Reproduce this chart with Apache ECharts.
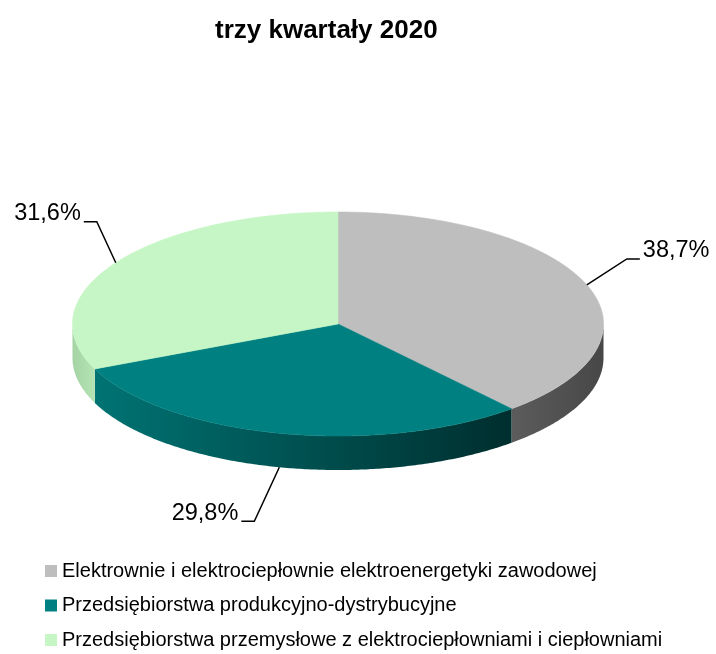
<!DOCTYPE html>
<html>
<head>
<meta charset="utf-8">
<script src="https://cdn.jsdelivr.net/npm/echarts@6/dist/echarts.min.js"></script>
<style>
  html, body { margin: 0; padding: 0; background: #fff; }
  #chart { width: 716px; height: 654px; }
</style>
</head>
<body>
<div id="chart"></div>
<script>
// data
const categories = [
    "Elektrownie i elektrociepłownie elektroenergetyki zawodowej",
    "Przedsiębiorstwa produkcyjno-dystrybucyjne",
    "Przedsiębiorstwa przemysłowe z elektrociepłowniami i ciepłowniami"
];
const shares = [38.7, 29.8, 31.6];

// look
const topColors = ["#bebebe", "#008080", "#c6f6c6"];
const wallColors = [
    ["#5c5c5c", "#474747"],
    ["#007373", "#002e2e"],
    ["#a4d4a4", "#b4e4b4"]
];
// leader line elbow offsets (px) from the slice edge
const labelOffsets = [[40, -26], [-25, 54], [-19, -41]];

const FONT = "'Liberation Sans', Arial, sans-serif";

// pie geometry, relative to the chart size
const CX = 338 / 716, CY = 324 / 654, RX = 265.5 / 716, RY = 112 / 654, DEPTH = 34;

const total = shares.reduce((a, b) => a + b, 0);

function fmt(v) {
    return v.toFixed(1).replace(".", ",") + "%";
}

function arc(pt, a0, a1, dy) {
    const pts = [];
    const n = Math.max(2, Math.ceil(Math.abs(a1 - a0) / 0.01));
    for (let i = 0; i <= n; i++) pts.push(pt(a0 + (a1 - a0) * i / n, dy));
    return pts;
}

function renderSlice(idx) {
    return function (params, api) {
        const W = api.getWidth(), H = api.getHeight();
        const cx = W * CX, cy = H * CY, rx = W * RX, ry = H * RY;
        const pt = (a, dy) => [cx + rx * Math.sin(a), cy - ry * Math.cos(a) + (dy || 0)];

        let start = 0;
        for (let i = 0; i < idx; i++) start += shares[i];
        const a0 = start / total * Math.PI * 2;
        const a1 = (start + api.value(0)) / total * Math.PI * 2;

        const children = [];

        // front wall
        const w0 = Math.max(a0, Math.PI / 2), w1 = Math.min(a1, Math.PI * 1.5);
        if (w1 > w0) {
            const pts = arc(pt, w0, w1, 0).concat(arc(pt, w1, w0, DEPTH));
            children.push({
                type: "polygon",
                shape: { points: pts },
                style: {
                    fill: {
                        type: "linear", x: 0, y: 0, x2: 1, y2: 0,
                        colorStops: [
                            { offset: 0, color: wallColors[idx][0] },
                            { offset: 1, color: wallColors[idx][1] }
                        ]
                    }
                }
            });
        }

        // top face
        children.push({
            type: "polygon",
            shape: { points: [[cx, cy]].concat(arc(pt, a0, a1, 0)) },
            style: { fill: topColors[idx], stroke: topColors[idx], lineWidth: 0.6 }
        });

        // label with leader line
        const mid = (a0 + a1) / 2;
        const front = Math.cos(mid) < 0;
        const p0 = pt(mid, front ? DEPTH : 0);
        const off = labelOffsets[idx];
        const p1 = [p0[0] + off[0], p0[1] + off[1]];
        const dir = Math.sin(mid) >= 0 ? 1 : -1;
        const p2 = [p1[0] + dir * 13, p1[1]];
        children.push({
            type: "polyline",
            shape: { points: [p0, p1, p2] },
            style: { stroke: "#000", lineWidth: 1.5, fill: null }
        });
        children.push({
            type: "text",
            x: p2[0] + dir * 3,
            y: p2[1] - 8,
            style: {
                text: fmt(api.value(0)),
                font: "23.5px " + FONT,
                fill: "#000",
                align: dir > 0 ? "left" : "right",
                verticalAlign: "middle"
            }
        });

        return { type: "group", children: children };
    };
}

const chart = echarts.init(document.getElementById("chart"));

chart.setOption({
    animation: false,
    backgroundColor: "#fff",
    color: topColors,
    title: {
        text: "trzy kwartały 2020",
        left: 210,
        top: 13,
        textStyle: { fontFamily: FONT, fontSize: 26, fontWeight: "bold", color: "#000" }
    },
    legend: {
        orient: "vertical",
        left: 45,
        top: 561,
        padding: 0,
        icon: "rect",
        itemWidth: 12,
        itemHeight: 12,
        itemGap: 14.5,
        selectedMode: false,
        data: categories,
        textStyle: { fontFamily: FONT, fontSize: 20, lineHeight: 20, color: "#000" }
    },
    series: categories.map((name, i) => ({
        type: "custom",
        name: name,
        coordinateSystem: "none",
        silent: true,
        itemStyle: { color: topColors[i] },
        data: [[shares[i]]],
        renderItem: renderSlice(i)
    }))
});
</script>
</body>
</html>
